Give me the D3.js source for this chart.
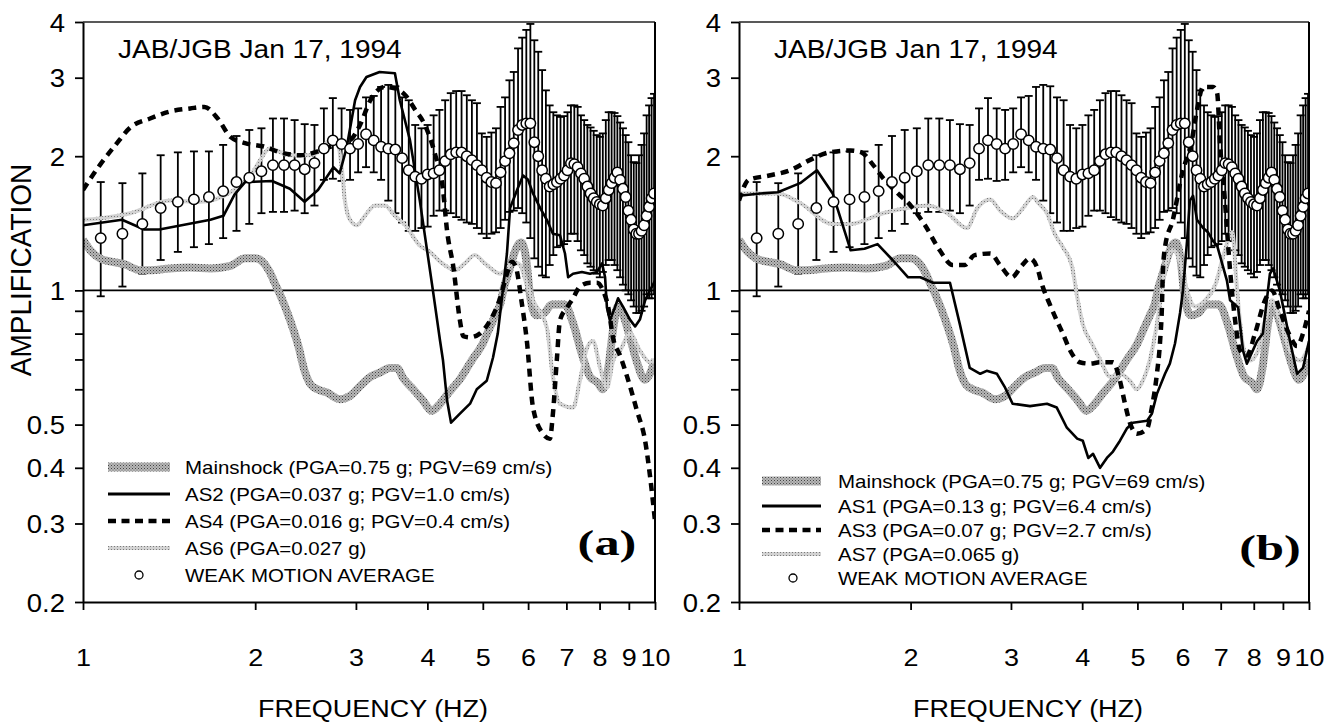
<!DOCTYPE html>
<html><head><meta charset="utf-8">
<script src="https://cdn.jsdelivr.net/npm/d3@7"></script>
<style>
html,body{margin:0;padding:0;background:#fff;}
svg{display:block;}
text{font-family:"Liberation Sans",Arial,Helvetica,sans-serif;fill:#000;}
</style></head><body>
<svg id="chart" width="1337" height="723"></svg>
<script>
// ---------- DATA ----------
const xTickValues = [1,2,3,4,5,6,7,8,9,10];
const xTickLabels = ["1","2","3","4","5","6","7","8","9","10"];
const yTickValues = [0.2,0.3,0.4,0.5,1,2,3,4];
const yTickLabels = ["0.2","0.3","0.4","0.5","1","2","3","4"];
const yMinorTicks = [0.6,0.7,0.8,0.9];
const titleText = "JAB/JGB Jan 17, 1994";
const panelLabels = ["(a)","(b)"];

// Weak motion average (same site, same in both panels)
const wmaFreq = [1.074,1.172,1.270,1.367,1.465,1.563,1.660,1.758,1.855,1.953,
 2.051,2.148,2.246,2.344,2.441,2.539,2.637,2.734,2.832,2.930,
 3.027,3.125,3.223,3.320,3.418,3.516,3.613,3.711,3.809,3.906,
 4.004,4.102,4.199,4.297,4.395,4.492,4.590,4.688,4.785,4.883,
 4.980,5.078,5.176,5.273,5.371,5.469,5.566,5.664,5.762,5.859,
 5.957,6.055,6.152,6.250,6.348,6.445,6.543,6.641,6.738,6.836,
 6.934,7.031,7.129,7.227,7.324,7.422,7.520,7.617,7.715,7.813,
 7.910,8.008,8.105,8.203,8.301,8.398,8.496,8.594,8.691,8.789,
 8.887,8.984,9.082,9.180,9.277,9.375,9.473,9.570,9.668,9.766,
 9.863,9.961];
const wmaMean = [1.31,1.34,1.41,1.53,1.58,1.60,1.62,1.67,1.75,1.79,
 1.85,1.91,1.91,1.91,1.87,1.93,2.08,2.17,2.13,2.08,
 2.13,2.24,2.17,2.10,2.08,2.07,1.98,1.86,1.80,1.78,
 1.82,1.83,1.86,1.95,2.02,2.04,2.04,2.00,1.96,1.91,
 1.86,1.79,1.75,1.74,1.84,1.95,2.03,2.14,2.29,2.35,
 2.37,2.37,2.15,2.00,1.86,1.78,1.71,1.73,1.75,1.78,
 1.81,1.86,1.93,1.92,1.89,1.83,1.78,1.71,1.65,1.61,
 1.58,1.56,1.55,1.61,1.68,1.74,1.79,1.84,1.77,1.69,
 1.62,1.51,1.44,1.37,1.34,1.34,1.36,1.40,1.47,1.54,
 1.61,1.65];
const wmaHigh = [1.75,1.74,1.83,2.01,2.04,2.05,2.05,2.12,2.22,2.29,
 2.31,2.43,2.43,2.41,2.36,2.35,2.56,2.70,2.56,2.54,
 2.56,2.71,2.73,2.86,2.89,2.87,2.71,2.67,2.35,2.31,
 2.35,2.47,2.54,2.67,2.77,2.80,2.80,2.74,2.67,2.63,
 2.25,2.21,2.26,2.31,2.58,2.71,2.96,3.09,3.49,3.69,
 3.84,3.96,3.64,3.43,3.12,2.81,2.60,2.51,2.47,2.45,
 2.46,2.51,2.60,2.60,2.58,2.47,2.41,2.35,2.32,2.28,
 2.23,2.21,2.25,2.41,2.51,2.51,2.50,2.46,2.38,2.31,
 2.23,2.15,2.01,1.94,1.93,2.01,2.12,2.25,2.47,2.60,
 2.70,2.76];
const wmaLow = [0.97,1.02,1.09,1.17,1.22,1.25,1.27,1.31,1.36,1.41,
 1.49,1.50,1.50,1.51,1.49,1.55,1.77,1.78,1.76,1.77,
 1.84,1.89,1.84,1.77,1.59,1.49,1.42,1.36,1.36,1.38,
 1.39,1.47,1.51,1.51,1.49,1.46,1.44,1.42,1.41,1.38,
 1.34,1.31,1.34,1.35,1.38,1.44,1.50,1.51,1.53,1.49,
 1.42,1.31,1.18,1.13,1.08,1.07,1.14,1.20,1.25,1.26,
 1.27,1.29,1.34,1.34,1.29,1.23,1.20,1.15,1.13,1.11,
 1.09,1.07,1.10,1.14,1.17,1.17,1.14,1.11,1.07,1.03,
 1.00,0.98,0.95,0.92,0.89,0.89,0.90,0.92,0.98,0.96,
 0.96,0.98];

// Mainshock (same in both panels): [freq, amplification]
const mainshock = [[1.00,1.30],[1.03,1.23],[1.07,1.18],[1.12,1.16],[1.18,1.145],[1.26,1.11],[1.31,1.11],[1.42,1.12],[1.54,1.125],[1.67,1.12],[1.81,1.135],[1.92,1.18],[2.00,1.18],[2.06,1.16],[2.12,1.10],[2.17,1.03],[2.21,0.98],[2.30,0.86],[2.38,0.75],[2.44,0.66],[2.50,0.615],[2.57,0.60],[2.67,0.59],[2.81,0.57],[2.93,0.58],[3.05,0.61],[3.18,0.64],[3.31,0.655],[3.44,0.67],[3.54,0.67],[3.63,0.635],[3.78,0.60],[3.93,0.566],[4.07,0.537],[4.21,0.557],[4.36,0.59],[4.56,0.632],[4.78,0.696],[5.00,0.76],[5.11,0.81],[5.26,0.88],[5.36,0.93],[5.45,1.02],[5.55,1.10],[5.65,1.19],[5.75,1.26],[5.84,1.28],[5.95,1.18],[6.05,0.97],[6.20,0.88],[6.40,0.89],[6.60,0.93],[6.95,0.93],[7.20,0.84],[7.45,0.72],[7.70,0.64],[7.95,0.62],[8.10,0.60],[8.30,0.68],[8.45,0.82],[8.60,0.92],[8.80,0.88],[9.05,0.78],[9.30,0.69],[9.60,0.63],[9.85,0.66],[10.0,0.70]];

// Panel (a) aftershocks
const as2 = [[1.00,1.40],[1.17,1.44],[1.28,1.37],[1.36,1.37],[1.67,1.44],[1.76,1.47],[1.84,1.64],[1.92,1.75],[2.14,1.76],[2.30,1.69],[2.44,1.58],[2.575,1.68],[2.74,1.89],[2.81,1.83],[2.89,2.09],[2.99,2.67],[3.05,2.86],[3.13,3.01],[3.30,3.09],[3.51,3.07],[3.58,2.67],[3.73,2.17],[3.88,1.59],[4.09,1.00],[4.21,0.77],[4.26,0.696],[4.33,0.566],[4.40,0.505],[4.56,0.529],[4.75,0.557],[4.88,0.60],[5.08,0.627],[5.21,0.707],[5.31,0.80],[5.42,1.00],[5.51,1.21],[5.58,1.53],[5.76,1.70],[5.88,1.81],[6.00,1.77],[6.12,1.65],[6.30,1.53],[6.47,1.44],[6.63,1.34],[6.82,1.33],[6.96,1.21],[7.05,1.07],[7.19,1.09],[7.45,1.10],[7.70,1.09],[7.92,1.10],[8.08,1.15],[8.18,1.07],[8.24,0.916],[8.34,0.856],[8.51,0.916],[8.62,0.96],[8.79,0.92],[9.04,0.86],[9.23,0.83],[9.41,0.86],[9.61,0.95],[9.80,1.00],[10.0,1.05]];
const as4 = [[1.00,1.68],[1.07,1.91],[1.14,2.12],[1.21,2.32],[1.31,2.43],[1.42,2.52],[1.54,2.56],[1.63,2.58],[1.72,2.43],[1.81,2.21],[1.92,2.14],[2.08,2.10],[2.21,2.04],[2.40,2.01],[2.60,2.06],[2.76,2.12],[2.93,2.17],[3.05,2.35],[3.18,2.67],[3.37,2.86],[3.51,2.84],[3.66,2.74],[3.81,2.54],[3.96,2.35],[4.13,2.01],[4.26,1.68],[4.33,1.36],[4.44,1.13],[4.56,0.856],[4.62,0.79],[4.75,0.785],[4.94,0.80],[5.15,0.856],[5.36,0.96],[5.51,1.09],[5.62,1.16],[5.72,1.12],[5.84,0.95],[5.97,0.77],[6.12,0.546],[6.37,0.477],[6.55,0.465],[6.63,0.529],[6.74,0.707],[6.82,0.856],[7.02,0.916],[7.19,0.96],[7.39,1.02],[7.70,1.04],[7.92,1.04],[8.11,1.00],[8.28,0.92],[8.45,0.78],[8.69,0.714],[8.94,0.64],[9.30,0.537],[9.61,0.46],[9.80,0.384],[10.0,0.304]];
const as6 = [[1.00,1.44],[1.07,1.45],[1.21,1.49],[1.42,1.59],[1.60,1.58],[1.81,1.66],[1.98,1.84],[2.04,1.96],[2.12,2.08],[2.30,2.01],[2.49,2.01],[2.60,2.06],[2.70,2.17],[2.78,2.15],[2.83,1.91],[2.87,1.59],[2.93,1.44],[3.01,1.40],[3.11,1.47],[3.24,1.55],[3.37,1.55],[3.51,1.47],[3.66,1.40],[3.88,1.26],[4.04,1.22],[4.21,1.16],[4.33,1.13],[4.47,1.11],[4.65,1.15],[4.84,1.20],[5.04,1.15],[5.36,1.09],[5.51,1.12],[5.65,1.16],[5.81,1.14],[5.97,1.03],[6.12,0.95],[6.47,0.825],[6.63,0.64],[6.82,0.557],[7.19,0.546],[7.39,0.627],[7.61,0.744],[7.79,0.77],[8.02,0.67],[8.24,0.605],[8.45,0.696],[8.69,0.733],[9.04,0.80],[9.41,0.733],[9.80,0.69],[10.0,0.70]];

// Panel (b) aftershocks
const as1 = [[1.00,1.63],[1.09,1.65],[1.17,1.66],[1.28,1.74],[1.37,1.86],[1.46,1.65],[1.57,1.23],[1.66,1.24],[1.75,1.27],[1.86,1.17],[1.98,1.07],[2.08,1.07],[2.19,1.04],[2.345,1.04],[2.44,0.84],[2.54,0.67],[2.65,0.65],[2.72,0.66],[2.835,0.65],[2.93,0.605],[3.02,0.557],[3.24,0.55],[3.47,0.557],[3.61,0.546],[3.76,0.492],[3.92,0.465],[4.01,0.46],[4.10,0.421],[4.18,0.43],[4.30,0.40],[4.42,0.421],[4.53,0.435],[4.66,0.46],[4.79,0.49],[4.91,0.505],[5.20,0.51],[5.30,0.529],[5.41,0.586],[5.59,0.65],[5.70,0.685],[5.82,0.76],[5.94,0.89],[6.01,1.00],[6.11,1.29],[6.18,1.59],[6.26,1.63],[6.36,1.44],[6.52,1.38],[6.65,1.35],[6.79,1.29],[6.90,1.26],[7.18,1.05],[7.27,0.95],[7.51,0.916],[7.66,0.733],[7.78,0.685],[8.11,0.77],[8.30,0.80],[8.54,1.09],[8.65,1.12],[8.89,1.00],[9.26,0.77],[9.53,0.65],[9.76,0.67],[10.0,0.77]];
const as3 = [[1.00,1.59],[1.04,1.77],[1.13,1.81],[1.23,1.86],[1.33,1.96],[1.44,2.04],[1.57,2.06],[1.64,2.04],[1.72,1.91],[1.80,1.77],[1.90,1.65],[2.00,1.55],[2.12,1.40],[2.25,1.23],[2.37,1.14],[2.49,1.14],[2.59,1.20],[2.76,1.21],[2.87,1.14],[3.01,1.07],[3.14,1.14],[3.24,1.18],[3.33,1.13],[3.41,1.02],[3.51,0.93],[3.61,0.856],[3.70,0.80],[3.81,0.733],[3.96,0.69],[4.13,0.685],[4.30,0.69],[4.53,0.69],[4.66,0.627],[4.755,0.557],[4.85,0.505],[4.99,0.477],[5.20,0.49],[5.30,0.546],[5.41,0.65],[5.48,0.77],[5.52,0.916],[5.54,1.09],[5.59,1.25],[5.77,1.44],[5.99,1.83],[6.23,2.17],[6.36,2.54],[6.52,2.86],[6.79,2.86],[6.90,2.77],[6.98,2.14],[7.12,1.59],[7.27,1.11],[7.42,0.856],[7.57,0.733],[7.78,0.714],[8.04,0.80],[8.37,0.95],[8.61,1.00],[8.89,0.90],[9.26,0.79],[9.53,0.75],[9.76,0.80],[10.0,0.90]];
const as7 = [[1.00,1.65],[1.17,1.65],[1.28,1.57],[1.46,1.41],[1.57,1.41],[1.79,1.49],[1.97,1.53],[2.14,1.55],[2.32,1.49],[2.51,1.38],[2.62,1.53],[2.76,1.60],[2.87,1.51],[3.02,1.45],[3.15,1.53],[3.28,1.62],[3.35,1.57],[3.47,1.49],[3.58,1.34],[3.70,1.25],[3.84,1.13],[3.93,0.95],[4.01,0.84],[4.16,0.76],[4.30,0.70],[4.48,0.64],[4.66,0.65],[4.85,0.627],[4.99,0.60],[5.11,0.627],[5.26,0.70],[5.41,0.84],[5.52,1.00],[5.63,1.16],[5.77,1.23],[5.94,1.16],[6.11,1.00],[6.31,0.92],[6.57,0.95],[6.85,1.03],[7.12,1.23],[7.33,1.35],[7.48,1.00],[7.66,0.75],[7.88,0.696],[8.14,0.733],[8.37,0.856],[8.61,0.95],[8.89,0.856],[9.26,0.733],[9.64,0.696],[10.0,0.75]];

const legendA = ["Mainshock (PGA=0.75 g; PGV=69 cm/s)","AS2 (PGA=0.037 g; PGV=1.0 cm/s)","AS4 (PGA=0.016 g; PGV=0.4 cm/s)","AS6 (PGA=0.027 g)","WEAK MOTION AVERAGE"];
const legendB = ["Mainshock (PGA=0.75 g; PGV=69 cm/s)","AS1 (PGA=0.13 g; PGV=6.4 cm/s)","AS3 (PGA=0.07 g; PGV=2.7 cm/s)","AS7 (PGA=0.065 g)","WEAK MOTION AVERAGE"];

// ---------- LAYOUT ----------
const SX = 1.1;
const TOP = 22, BOTTOM = 602;
const panels = [
  {left:83, right:655, solid:as2, dashed:as4, thin:as6, legend:legendA, label:panelLabels[0],
   leg:{x0:108,x1:170,tx:185,rows:[467,494,521,548,575],cx:139}, labelX:607, labelY:555},
  {left:739, right:1309, solid:as1, dashed:as3, thin:as7, legend:legendB, label:panelLabels[1],
   leg:{x0:762,x1:821,tx:838,rows:[481,506,530,554,578],cx:793}, labelX:1270, labelY:560}
];

const svg = d3.select("#chart");
const defs = svg.append("defs");
// stipple patterns
const p1 = defs.append("pattern").attr("id","stipDark").attr("width",3).attr("height",3).attr("patternUnits","userSpaceOnUse");
p1.append("rect").attr("width",3).attr("height",3).attr("fill","#b8b8b8");
p1.append("rect").attr("x",0).attr("y",0).attr("width",1).attr("height",1).attr("fill","#444");
p1.append("rect").attr("x",1.5).attr("y",1.5).attr("width",1).attr("height",1).attr("fill","#666");
const p2 = defs.append("pattern").attr("id","stipLight").attr("width",3).attr("height",3).attr("patternUnits","userSpaceOnUse");
p2.append("rect").attr("width",3).attr("height",3).attr("fill","#d2d2d2");
p2.append("rect").attr("x",0).attr("y",0).attr("width",1).attr("height",1).attr("fill","#7a7a7a");

const yScale = d3.scaleLog().domain([0.2,4]).range([BOTTOM,TOP]);

function stext(g, x, y, str, size, anchor){
  return g.append("text").attr("transform",`translate(${x},${y}) scale(${SX},1)`)
    .attr("text-anchor",anchor).style("font-size",size+"px").text(str);
}

panels.forEach((P,pi)=>{
  const x = d3.scaleLog().domain([1,10]).range([P.left,P.right]);
  const g = svg.append("g");
  const clipId = "clip"+pi;
  defs.append("clipPath").attr("id",clipId).append("rect")
    .attr("x",P.left).attr("y",TOP).attr("width",P.right-P.left).attr("height",BOTTOM-TOP);

  // reference line at 1
  g.append("line").attr("x1",P.left).attr("x2",P.right).attr("y1",yScale(1)).attr("y2",yScale(1))
    .attr("stroke","#000").attr("stroke-width",1.6);

  const plot = g.append("g").attr("clip-path",`url(#${clipId})`);

  // error bars
  const eb = plot.append("g").attr("stroke","#000").attr("stroke-width",1.8);
  wmaFreq.forEach((f,i)=>{
    const xx = x(f), y1 = yScale(wmaHigh[i]), y0 = yScale(wmaLow[i]);
    eb.append("line").attr("x1",xx).attr("x2",xx).attr("y1",y1).attr("y2",y0);
    eb.append("line").attr("x1",xx-4).attr("x2",xx+4).attr("y1",y1).attr("y2",y1);
    eb.append("line").attr("x1",xx-4).attr("x2",xx+4).attr("y1",y0).attr("y2",y0);
  });

  const lineSmooth = d3.line().x(d=>x(d[0])).y(d=>yScale(d[1])).curve(d3.curveMonotoneX);
  const lineStraight = d3.line().x(d=>x(d[0])).y(d=>yScale(d[1]));

  plot.append("path").datum(mainshock).attr("d",lineSmooth).attr("fill","none")
    .attr("stroke","url(#stipDark)").attr("stroke-width",8).attr("stroke-linejoin","round");
  plot.append("path").datum(P.thin).attr("d",lineSmooth).attr("fill","none")
    .attr("stroke","url(#stipLight)").attr("stroke-width",4).attr("stroke-linejoin","round");
  plot.append("path").datum(P.solid).attr("d",lineStraight).attr("fill","none")
    .attr("stroke","#000").attr("stroke-width",2.6).attr("stroke-linejoin","round");
  plot.append("path").datum(P.dashed).attr("d",lineSmooth).attr("fill","none")
    .attr("stroke","#000").attr("stroke-width",4.5).attr("stroke-dasharray","8,6");

  // weak motion average circles
  plot.append("g").selectAll("circle").data(wmaFreq).join("circle")
    .attr("cx",d=>x(d)).attr("cy",(d,i)=>yScale(wmaMean[i])).attr("r",5.2)
    .attr("fill","#fff").attr("stroke","#000").attr("stroke-width",1.5);

  // borders
  g.append("line").attr("x1",P.left).attr("x2",P.right).attr("y1",TOP).attr("y2",TOP)
    .attr("stroke","#222").attr("stroke-width",1.3);
  g.append("line").attr("x1",P.right).attr("x2",P.right).attr("y1",TOP).attr("y2",BOTTOM)
    .attr("stroke","#000").attr("stroke-width",2);

  // y axis
  const ya = g.append("g").attr("transform",`translate(${P.left},0)`)
    .call(d3.axisLeft(yScale).tickValues(yTickValues).tickFormat((d,i)=>yTickLabels[i]).tickSize(8).tickSizeOuter(0));
  ya.select(".domain").attr("stroke-width",2);
  ya.selectAll(".tick line").attr("stroke-width",1.8);
  ya.selectAll(".tick text").attr("x",-18/SX).attr("dy",null).attr("y",9)
    .attr("transform",`scale(${SX},1)`).style("font-size","25px").style("font-family","Liberation Sans, Arial, sans-serif");
  const ym = g.append("g").attr("transform",`translate(${P.left},0)`)
    .call(d3.axisLeft(yScale).tickValues(yMinorTicks).tickFormat("").tickSize(8).tickSizeOuter(0));
  ym.select(".domain").remove();
  ym.selectAll(".tick line").attr("stroke-width",1.8);

  // x axis
  const xa = g.append("g").attr("transform",`translate(0,${BOTTOM})`)
    .call(d3.axisBottom(x).tickValues(xTickValues).tickFormat((d,i)=>xTickLabels[i]).tickSize(8).tickSizeOuter(0));
  xa.select(".domain").attr("stroke-width",2);
  xa.selectAll(".tick line").attr("stroke-width",1.8);
  xa.selectAll(".tick text").attr("y",64).attr("dy",null)
    .attr("transform",`scale(${SX},1)`).style("font-size","24.5px").style("font-family","Liberation Sans, Arial, sans-serif");

  // titles
  stext(g, P.left+35, 58, titleText, 25.5, "start");
  stext(g, (P.left+P.right)/2+4, 717, "FREQUENCY (HZ)", 24.5, "middle");

  // panel label
  g.append("text").attr("transform",`translate(${P.labelX},${P.labelY}) scale(1.4,1)`)
    .attr("text-anchor","middle").style("font-family","Liberation Serif, Times New Roman, serif")
    .style("font-weight","bold").style("font-size","36px").text(P.label);

  // legend
  const L = P.leg;
  const lg = g.append("g");
  const rows = L.rows;
  lg.append("line").attr("x1",L.x0).attr("x2",L.x1).attr("y1",rows[0]).attr("y2",rows[0])
    .attr("stroke","url(#stipDark)").attr("stroke-width",9);
  lg.append("line").attr("x1",L.x0).attr("x2",L.x1).attr("y1",rows[1]).attr("y2",rows[1])
    .attr("stroke","#000").attr("stroke-width",2.8);
  lg.append("line").attr("x1",L.x0).attr("x2",L.x1).attr("y1",rows[2]).attr("y2",rows[2])
    .attr("stroke","#000").attr("stroke-width",4.5).attr("stroke-dasharray","8,5.5");
  lg.append("line").attr("x1",L.x0).attr("x2",L.x1).attr("y1",rows[3]).attr("y2",rows[3])
    .attr("stroke","url(#stipLight)").attr("stroke-width",4);
  lg.append("circle").attr("cx",L.cx).attr("cy",rows[4]).attr("r",4)
    .attr("fill","#fff").attr("stroke","#000").attr("stroke-width",1.3);
  P.legend.forEach((t,i)=>{ stext(lg, L.tx, rows[i]+6.5, t, 18.6, "start"); });
});

// y axis title
svg.append("text").attr("transform","translate(31,270) scale(1.05,1) rotate(-90)")
  .attr("text-anchor","middle").style("font-size","28px").text("AMPLIFICATION");
</script>
</body></html>
